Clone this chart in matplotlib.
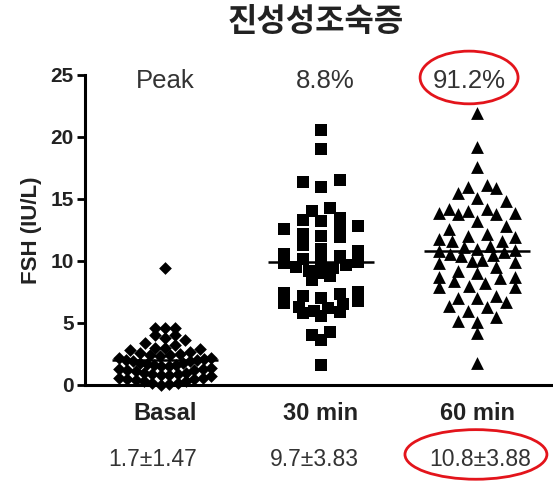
import numpy as np
import matplotlib.pyplot as plt
from matplotlib.patches import Ellipse

plt.rcParams["font.family"] = ["Liberation Sans", "DejaVu Sans"]

# -----------------------------------------------------------------------------
# Data
# -----------------------------------------------------------------------------
groups = ["Basal", "30 min", "60 min"]
peak_labels = ["Peak", "8.8%", "91.2%"]
stat_labels = ["1.7±1.47", "9.7±3.83", "10.8±3.88"]

basal = [9.4, 4.6, 4.6, 4.6, 4.0, 4.0, 3.8, 3.6, 3.4, 3.2, 3.0, 3.0, 2.9,
         2.8, 2.7, 2.6, 2.5, 2.4, 2.4, 2.3, 2.2, 2.2, 2.1, 2.0, 2.0, 1.9,
         1.9, 1.8, 1.8, 1.7, 1.6, 1.6, 1.5, 1.5, 1.4, 1.3, 1.3, 1.2, 1.2,
         1.1, 1.0, 1.0, 0.9, 0.9, 0.8, 0.8, 0.7, 0.6, 0.6, 0.5, 0.5, 0.4,
         0.3, 0.3, 0.2, 0.2, 0.1, 0.0]
min30 = [20.6, 19.0, 16.5, 16.4, 16.0, 14.3, 14.0, 13.5, 13.3, 13.2, 12.8,
         12.6, 12.5, 12.2, 12.0, 11.9, 11.3, 11.0, 10.8, 10.6, 10.4, 10.2,
         10.0, 9.9, 9.8, 9.7, 9.5, 9.4, 9.2, 9.0, 8.8, 8.5, 7.5, 7.4, 7.3,
         7.2, 7.0, 6.8, 6.6, 6.5, 6.3, 6.2, 6.0, 5.9, 5.8, 5.6, 4.3, 4.0,
         3.6, 1.6]
min60 = [21.9, 19.2, 17.6, 16.1, 16.0, 15.9, 15.5, 15.1, 14.8, 14.2, 14.2,
         14.0, 13.9, 13.9, 13.8, 13.8, 13.2, 12.8, 12.6, 12.2, 12.0, 11.9,
         11.8, 11.6, 11.6, 11.2, 11.1, 11.0, 10.9, 10.8, 10.7, 10.6, 10.5,
         10.4, 10.1, 10.0, 9.9, 9.8, 9.5, 9.2, 9.0, 8.7, 8.7, 8.6, 8.4, 8.2,
         8.0, 7.9, 7.9, 7.2, 7.0, 7.0, 6.7, 6.4, 6.3, 6.0, 5.5, 5.2, 5.1,
         4.2, 1.8]

# pixel scale of the x axis (px per category unit) used for the scatter layout
PX_X = 156.0


def spread(vals, binw, step, maxoff):
    """Prism-style scatter: points in the same y bin are spread side by side,
    squeezed together when a row would get wider than maxoff (px)."""
    vals = np.asarray(vals)
    bins = np.floor(vals / binw)
    offs = np.zeros(len(vals))
    for b in np.unique(bins):
        idx = np.where(bins == b)[0]
        idx = idx[np.argsort(vals[idx])]
        n = len(idx)
        st = step if n < 2 else min(step, 2 * maxoff / (n - 1))
        slots = (np.arange(n) - (n - 1) / 2) * st
        order = np.argsort(np.abs(slots), kind="stable")
        offs[idx] = slots[order] / PX_X
    return offs


# -----------------------------------------------------------------------------
# Figure
# -----------------------------------------------------------------------------
fig = plt.figure(figsize=(5.53, 4.82), dpi=100)
ax = fig.add_axes([85 / 553, 97 / 482, 468 / 553, 310 / 482])

series = [
    (basal, "D", 42, 0.75, 10, 46),
    (min30, "s", 75, 1.0, 18.5, 37),
    (min60, "^", 85, 1.0, 19, 38),
]
for i, (vals, mk, size, binw, step, maxoff) in enumerate(series):
    vals = np.array(vals)
    xs = (i + 1) + spread(vals, binw, step, maxoff)
    ax.scatter(xs, vals, marker=mk, s=size, color="black", lw=0, clip_on=False, zorder=3)
    m = vals.mean()
    ax.plot([i + 1 - 0.34, i + 1 + 0.34], [m, m], color="black", lw=1.8, zorder=4,
            solid_capstyle="butt")

ax.set_xlim(0.487, 3.487)
ax.set_ylim(0, 25)
ax.set_yticks([0, 5, 10, 15, 20, 25])
ax.set_xticks([1, 2, 3])
ax.set_xticklabels(groups, fontsize=17, fontweight="bold", color="#222222")
ax.tick_params(axis="x", length=0, pad=12)
ax.tick_params(axis="y", length=6, width=2, pad=2, labelsize=15, labelcolor="#222222")
for lab in ax.get_yticklabels():
    lab.set_fontweight("bold")
for side in ("top", "right"):
    ax.spines[side].set_visible(False)
for side in ("left", "bottom"):
    ax.spines[side].set_linewidth(2.2)

ax.set_ylabel("FSH (IU/L)", fontsize=16, fontweight="bold", color="#222222", labelpad=6)

# peak percentages above the groups
peak_x = [1.0, 2.03, 2.95]
for x, t in zip(peak_x, peak_labels):
    ax.text(x, 24.5, t, ha="center", va="center", fontsize=18.5, color="#333333")

# mean ± SD below the group labels
stat_x = [0.92, 1.96, 3.02]
for x, t in zip(stat_x, stat_labels):
    ax.text(x, -6.0, t, ha="center", va="center", fontsize=16.5, color="#333333",
            clip_on=False)

# red highlight ellipses
for (cx, cy, w, h) in [(2.949, 24.8, 0.628, 4.25), (2.993, -5.6, 0.91, 4.0)]:
    ax.add_patch(Ellipse((cx, cy), w, h, fill=False, edgecolor="#e3141b", lw=2.0,
                         clip_on=False, zorder=5))

fig.text(316 / 553, 1 - 22 / 482, "진성성조숙증", ha="center", va="center",
         fontsize=23, fontweight="bold", color="#222222",
         family=["Noto Sans CJK KR", "DejaVu Sans"])

fig.savefig("out.png", dpi=100)
